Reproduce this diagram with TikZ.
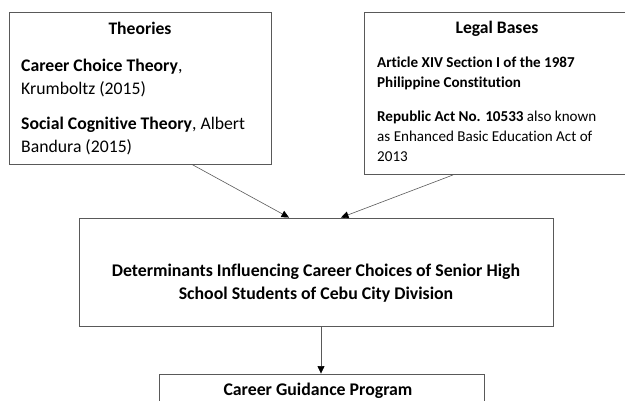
\documentclass[tikz,border=0pt]{standalone}
\usepackage{fontspec}
\setmainfont[Ligatures=NoCommon]{Carlito}
\usetikzlibrary{arrows.meta}
\definecolor{boxGray}{rgb}{0.35, 0.35, 0.35}

\begin{document}
\begin{tikzpicture}[x=1pt, y=-1pt,
        box/.style={draw=boxGray, line width=0.9pt, inner sep=0pt},
        txt/.style={inner sep=0pt, align=left},
        link/.style={draw=boxGray, line width=0.6pt, -{Triangle[length=7.5pt, width=7pt, color=black]}}]
        \clip (0,0) rectangle (625,400);
        % theories box
        \node[box, minimum width=262pt, minimum height=152pt] (theories) at (140,88) {};
        \node[txt, anchor=base, font=\fontsize{17.6}{23.3}\selectfont\bfseries] (theoriesTitle) at (140,34.3) {Theories};
        \node[txt, anchor=base west, font=\fontsize{17.7}{23.3}\selectfont] (theoriesBody) at (21,152.3)
            {\textbf{Career Choice Theory},\\ Krumboltz (2015)\\[11pt]
             \textbf{Social Cognitive Theory}, Albert\\ Bandura (2015)};
        % legal bases box
        \node[box, minimum width=266pt, minimum height=162pt] (legal) at (497,93.5) {};
        \node[txt, anchor=base, font=\fontsize{17.6}{20}\selectfont\bfseries] (legalTitle) at (497,33.5) {Legal Bases};
        \node[txt, anchor=base west, font=\fontsize{15.1}{20}\selectfont] (legalBody) at (377,161)
            {\textbf{Article XIV Section I of the 1987}\\ \textbf{Philippine Constitution}\\[13.3pt]
             \textbf{Republic Act No. 10533} also known\\ as Enhanced Basic Education Act of\\ 2013};
        % main box
        \node[box, minimum width=474pt, minimum height=108pt] (determinants) at (316,272) {};
        \node[txt, align=center, anchor=base, font=\fontsize{17.8}{23}\selectfont\bfseries] (determinantsText) at (316,299)
            {Determinants Influencing Career Choices of Senior High\\ School Students of Cebu City Division};
        % program box
        \node[box, minimum width=325pt, minimum height=60pt] (program) at (321.5,404) {};
        \node[txt, anchor=base, font=\fontsize{17.8}{23}\selectfont\bfseries] (programTitle) at (318,395) {Career Guidance Program};
        % arrows
        \draw[link] ([xshift=52pt]theories.south) -- ([xshift=-27pt]determinants.north);
        \draw[link] ([xshift=-44pt]legal.south) -- ([xshift=25pt]determinants.north);
        \draw[link] ([xshift=5pt]determinants.south) -- ([xshift=-0.5pt]program.north);
\end{tikzpicture}
\end{document}
